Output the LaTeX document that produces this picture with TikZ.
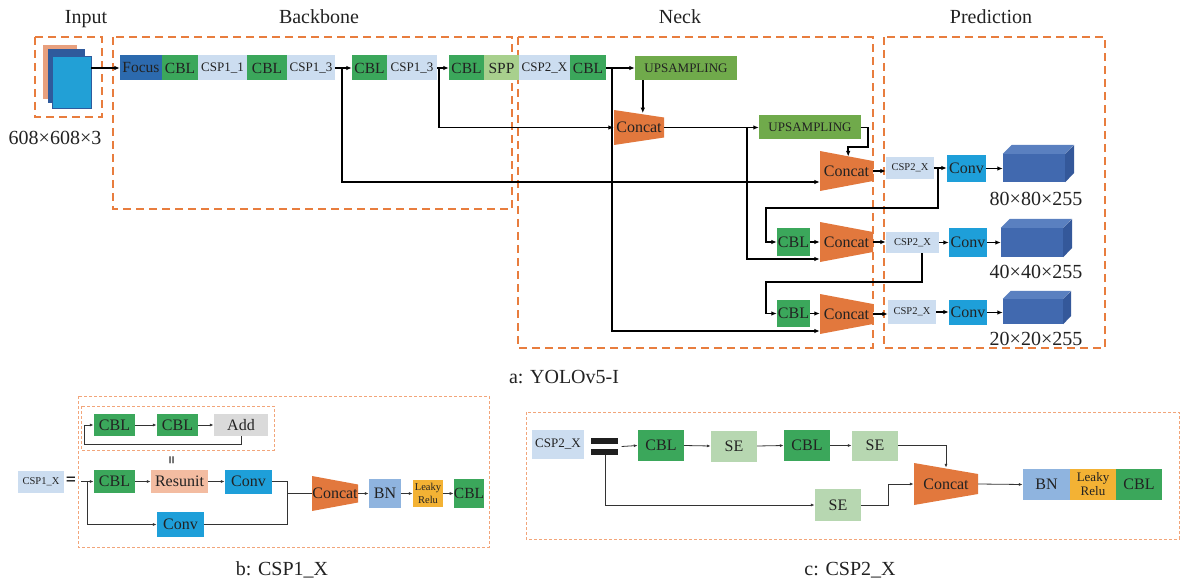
\documentclass[tikz,border=0pt]{standalone}
\usepackage{fontspec}
\setmainfont{Liberation Serif}
\usetikzlibrary{arrows.meta,calc}
\definecolor{cOr}{HTML}{E87D3E}
\definecolor{cOrL}{HTML}{F2A57A}
\definecolor{cFocus}{HTML}{2C6AAE}
\definecolor{cCBL}{HTML}{3BA75B}
\definecolor{cCSP}{HTML}{CCDDF0}
\definecolor{cSPP}{HTML}{A8D08D}
\definecolor{cUP}{HTML}{70AA4B}
\definecolor{cConcat}{HTML}{E2783D}
\definecolor{cConv}{HTML}{1E9FD9}
\definecolor{cCube}{HTML}{4169AF}
\definecolor{cCubeT}{HTML}{5A80C0}
\definecolor{cCubeS}{HTML}{34589A}
\definecolor{cSE}{HTML}{B7D7B1}
\definecolor{cRes}{HTML}{F3BCA1}
\definecolor{cAdd}{HTML}{DADADA}
\definecolor{cBN}{HTML}{8FB4DF}
\definecolor{cLeaky}{HTML}{F3B234}
\definecolor{cInBack}{HTML}{E8A07E}
\definecolor{cInMid}{HTML}{2F5A9C}
\definecolor{cInFront}{HTML}{22A0D6}
\definecolor{cTxt}{HTML}{222222}
\begin{document}
\begin{tikzpicture}[x=1pt,y=-1pt,
  bx/.style 2 args={rectangle, inner sep=0pt, minimum width=#1pt, minimum height=#2pt, text=cTxt},
  fT/.style={font=\fontsize{20}{22}\selectfont, text=cTxt, inner sep=0pt},
  fB/.style={font=\fontsize{15.5}{17}\selectfont},
  fC/.style={font=\fontsize{16}{18}\selectfont},
  fM/.style={font=\fontsize{13}{14}\selectfont},
  fS/.style={font=\fontsize{10.5}{12}\selectfont},
  concat/.style n args={3}{rectangle, inner sep=0pt, minimum width=#1pt, minimum height=#2pt, text=cTxt,
    path picture={\fill[cConcat] (path picture bounding box.north west) -- ([yshift=-#3pt]path picture bounding box.north east) -- ([yshift=#3pt]path picture bounding box.south east) -- (path picture bounding box.south west) -- cycle;}},
  dbox/.style={draw=cOr, line width=2.2pt, dash pattern=on 8pt off 5pt},
  bdash/.style={draw=cOrL, line width=0.8pt, dash pattern=on 3pt off 2pt},
  ln/.style={line width=1.6pt, draw=black},
  arr/.style={ln, -{Latex[length=5.5pt,width=4.5pt]}},
  tl/.style={line width=0.8pt, draw=black!80},
  tarr/.style={tl, -{Latex[length=4pt,width=3pt]}}
]
\useasboundingbox (0,0) rectangle (1187,583);

% ---------- titles ----------
\node[fT, anchor=base] (tIn) at (86,24) {Input};
\node[fT, anchor=base] (tBb) at (319,24) {Backbone};
\node[fT, anchor=base] (tNk) at (680,24) {Neck};
\node[fT, anchor=base] (tPr) at (991,24) {Prediction};

% ---------- dashed frames ----------
\draw[dbox] (35,37) rectangle (102,117);
\draw[dbox] (113,37) rectangle (512,209);
\draw[dbox] (518,37) rectangle (873,348);
\draw[dbox] (884,37) rectangle (1105,348);

% ---------- input ----------
\node[bx={34}{54}, fill=cInBack] (inB) at (60,72) {};
\node[bx={37}{54}, fill=cInMid] (inM) at (66.5,76) {};
\node[bx={39}{52}, fill=cInFront, draw=cInMid, line width=0.6pt] (inF) at (71.5,82) {};
\node[fT, anchor=base] (inLbl) at (55,145) {608×608×3};

% ---------- backbone row ----------
\node[bx={42}{25}, fill=cFocus, fB] (focus) at (141,68) {Focus};
\node[bx={36}{25}, fill=cCBL, fB] (cbl1) at (180,68) {CBL};
\node[bx={49}{25}, fill=cCSP, fM] (csp11) at (222.5,68) {CSP1\_1};
\node[bx={40}{25}, fill=cCBL, fB] (cbl2) at (267,68) {CBL};
\node[bx={48}{25}, fill=cCSP, fM] (csp13a) at (311,68) {CSP1\_3};
\node[bx={35}{25}, fill=cCBL, fB] (cbl3) at (369.5,68) {CBL};
\node[bx={50}{25}, fill=cCSP, fM] (csp13b) at (412,68) {CSP1\_3};
\node[bx={35}{25}, fill=cCBL, fB] (cbl4) at (466.5,68) {CBL};
\node[bx={35}{25}, fill=cSPP, fB] (spp) at (501.5,68) {SPP};
\node[bx={51}{25}, fill=cCSP, fM] (csp2x) at (544.5,68) {CSP2\_X};
\node[bx={36}{25}, fill=cCBL, fB] (cbl5) at (588,68) {CBL};
\node[bx={102}{24}, fill=cUP, fM] (up1) at (686,68) {UPSAMPLING};
\node[bx={102}{24}, fill=cUP, fM] (up2) at (810,127.5) {UPSAMPLING};

% ---------- neck concats ----------
\node[concat={50}{35}{7.5}, fC] (c1) at (639,127.5) {Concat};
\node[concat={53}{40}{10}, fC] (c2) at (846.5,171) {Concat};
\node[concat={53}{40}{10}, fC] (c3) at (846.5,242) {Concat};
\node[concat={53}{40}{10}, fC] (c4) at (846.5,314) {Concat};
\node[bx={33}{28}, fill=cCBL, fC] (cbl6) at (793.5,242) {CBL};
\node[bx={33}{27}, fill=cCBL, fC] (cbl7) at (793.5,313.5) {CBL};

% ---------- prediction ----------
\node[bx={48}{22}, fill=cCSP, fS] (cspA) at (910,168) {CSP2\_X};
\node[bx={39}{27}, fill=cConv, fC] (convA) at (966.5,168.5) {Conv};
\node[bx={53}{21}, fill=cCSP, fS] (cspB) at (912.5,242.5) {CSP2\_X};
\node[bx={38}{29}, fill=cConv, fC] (convB) at (968,242.5) {Conv};
\node[bx={48}{24}, fill=cCSP, fS] (cspC) at (912,312) {CSP2\_X};
\node[bx={38}{25}, fill=cConv, fC] (convC) at (968,312.5) {Conv};

\node[bx={62}{28}, fill=cCube] (cubeA) at (1034,168) {};
\node[bx={62}{29}, fill=cCube] (cubeB) at (1032,242.5) {};
\node[bx={60}{25}, fill=cCube] (cubeC) at (1033,311.5) {};
\fill[cCubeT] (cubeA.north west) -- ++(9,-9) -- ++(62,0) -- (cubeA.north east) -- cycle;
\fill[cCubeS] (cubeA.north east) -- ++(9,-9) -- ++(0,28) -- (cubeA.south east) -- cycle;
\fill[cCubeT] (cubeB.north west) -- ++(9,-9) -- ++(62,0) -- (cubeB.north east) -- cycle;
\fill[cCubeS] (cubeB.north east) -- ++(9,-9) -- ++(0,29) -- (cubeB.south east) -- cycle;
\fill[cCubeT] (cubeC.north west) -- ++(8,-8) -- ++(60,0) -- (cubeC.north east) -- cycle;
\fill[cCubeS] (cubeC.north east) -- ++(8,-8) -- ++(0,25) -- (cubeC.south east) -- cycle;
\node[fT, anchor=base] (lA) at (1036,205) {80×80×255};
\node[fT, anchor=base] (lB) at (1036,278) {40×40×255};
\node[fT, anchor=base] (lC) at (1036,345) {20×20×255};

% ---------- main connectors ----------
\draw[arr] (inF.east |- focus.west) -- (focus.west);
\draw[arr] (csp13a.east) -- (cbl3.west);
\coordinate (j1) at (342,68);
\draw[arr] (j1) |- ($(c2.west)+(0,11)$);
\draw[arr] (csp13b.east) -- (cbl4.west);
\coordinate (j2) at (439,68);
\draw[arr] (j2) |- (c1.west);
\draw[arr] (cbl5.east) -- (up1.west);
\coordinate (j3) at (612,68);
\draw[arr] (j3) |- ($(c4.west)+(0,17)$);
\draw[arr] ($(up1.south west)+(8,0)$) -- ++(0,33);
\draw[arr] (c1.east) -- (up2.west);
\coordinate (j4) at (747,127.5);
\draw[arr] (j4) |- ($(c3.west)+(0,17)$);
\draw[arr] (up2.east) -- ++(7,0) -- ++(0,19.5) -- ++(-20,0) -- ++(0,9.5);
\draw[arr] (c2.east) -- (c2.east -| cspA.west);
\draw[arr] (cspA.east) -- (cspA.east -| convA.west);
\coordinate (j5) at (938,168);
\coordinate (k1) at (766,208);
\draw[arr] (j5) |- (k1) |- (cbl6.west);
\draw[arr] (cbl6.east) -- (cbl6.east -| c3.west);
\draw[arr] (c3.east) -- (c3.east -| cspB.west);
\draw[arr] (cspB.east) -- (cspB.east -| convB.west);
\coordinate (k2) at (766,282);
\draw[arr] ($(cspB.south)+(9.5,0)$) |- (k2) |- (cbl7.west);
\draw[arr] (cbl7.east) -- (cbl7.east -| c4.west);
\draw[arr] (c4.east) -- (c4.east -| cspC.west);
\draw[arr] (cspC.east) -- (cspC.east -| convC.west);
\draw[arr] (convA.east) -- (convA.east -| cubeA.west);
\draw[arr] (convB.east) -- (convB.east -| cubeB.west);
\draw[arr] (convC.east) -- (convC.east -| cubeC.west);
\node[fT, anchor=base] (la) at (564,383) {a: YOLOv5-I};

% ---------- part b ----------
\draw[bdash] (78,396) rectangle (489,547);
\draw[bdash] (81,406) rectangle (274,450);
\node[bx={41}{22}, fill=cCBL, fC] (bcblA) at (114.5,425) {CBL};
\node[bx={41}{22}, fill=cCBL, fC] (bcblB) at (177.5,425) {CBL};
\node[bx={54}{22}, fill=cAdd, fC] (badd) at (241,425) {Add};
\draw[tarr] (bcblA.east) -- (bcblB.west);
\draw[tarr] (bcblB.east) -- (badd.west);
\coordinate (bk1) at (84,444);
\draw[tarr] (badd.south) |- (bk1) |- (bcblA.west);
\node[rotate=90, font=\fontsize{15}{15}\selectfont\bfseries, inner sep=0pt] (beq2) at (173,460) {=};
\node[bx={46}{22}, fill=cCSP, fS] (bcsp) at (41,482) {CSP1\_X};
\node[font=\fontsize{18}{18}\selectfont\bfseries, inner sep=0pt] (beq) at (71,481) {=};
\node[bx={41}{23}, fill=cCBL, fC] (bcblC) at (114.5,481.5) {CBL};
\node[bx={57}{23}, fill=cRes, fC] (bres) at (179.5,481.5) {Resunit};
\node[bx={47}{24}, fill=cConv, fC] (bconvA) at (248.5,481.5) {Conv};
\node[bx={47}{25}, fill=cConv, fC] (bconvB) at (180.5,524.5) {Conv};
\coordinate (bs) at (81,481.5);
\coordinate (bj) at (87,481.5);
\draw[tarr] (bs) -- (bcblC.west);
\draw[tarr] (bj) |- (bconvB.west);
\draw[tarr] (bcblC.east) -- (bres.west);
\draw[tarr] (bres.east) -- (bconvA.west);
\node[concat={46}{35}{8.5}, fC] (bcat) at (335,493.5) {Concat};
\coordinate (bm) at (287,493.5);
\draw[tl] (bconvA.east) -| (bm);
\draw[tl] (bconvB.east) -| (bm);
\draw[tl] (bm) -- (bcat.west);
\node[bx={32}{29}, fill=cBN, fC] (bbn) at (385,493.5) {BN};
\node[bx={30}{27}, fill=cLeaky, font=\fontsize{10.5}{12.5}\selectfont, align=center] (blk) at (428,493.5) {Leaky\\Relu};
\node[bx={30}{29}, fill=cCBL, fB] (bcblD) at (469,493.5) {CBL};
\draw[tarr] (bcat.east) -- (bbn.west);
\draw[tarr] (bbn.east) -- (blk.west);
\draw[tarr] (blk.east) -- (bcblD.west);
\node[fT, anchor=base] (lb) at (282,575) {b: CSP1\_X};

% ---------- part c ----------
\draw[bdash] (526,412) rectangle (1179,539);
\node[bx={52}{29}, fill=cCSP, fM] (ccsp) at (558,444.5) {CSP2\_X};
\fill[black!88] (591,438) rectangle (618,443.5);
\fill[black!88] (591,449) rectangle (618,455);
\node[bx={27}{17}] (ceq) at (605,446.5) {};
\node[bx={46}{31}, fill=cCBL, fC] (ccbl1) at (661,445.5) {CBL};
\node[bx={46}{31}, fill=cSE, fC] (cse1) at (734,446) {SE};
\node[bx={46}{31}, fill=cCBL, fC] (ccbl2) at (807,445.5) {CBL};
\node[bx={46}{30}, fill=cSE, fC] (cse2) at (875,445.5) {SE};
\node[bx={46}{32}, fill=cSE, fC] (cse3) at (838,505) {SE};
\node[concat={64}{42}{11}, fC] (ccat) at (946,484) {Concat};
\node[bx={47}{31}, fill=cBN, fC] (cbn) at (1046.5,484.5) {BN};
\node[bx={46}{31}, fill=cLeaky, font=\fontsize{13}{14}\selectfont, align=center] (clk) at (1093,484.5) {Leaky\\Relu};
\node[bx={46}{31}, fill=cCBL, fC] (ccbl3) at (1139,484.5) {CBL};
\draw[tarr] ($(ceq.east)+(3,0)$) -- (ccbl1.west);
\draw[tarr] (ccbl1.east) -- (cse1.west);
\draw[tarr] (cse1.east) -- (ccbl2.west);
\draw[tarr] (ccbl2.east) -- (cse2.west);
\draw[tarr] (cse2.east) -| ($(ccat.north)+(0,5)$);
\draw[tarr] (ceq.south) |- (cse3.west);
\draw[tarr] (cse3.east) -- ++(27,0) |- (ccat.west);
\draw[tarr] (ccat.east) -- (cbn.west);
\node[fT, anchor=base] (lc) at (850,575) {c: CSP2\_X};
\end{tikzpicture}
\end{document}
